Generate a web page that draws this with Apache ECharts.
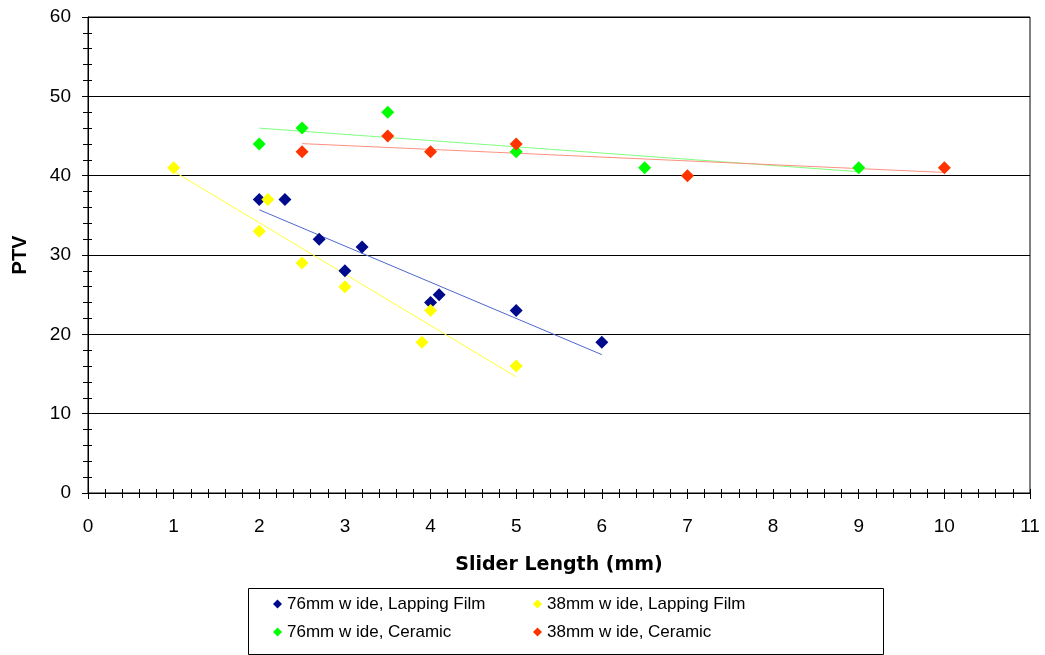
<!DOCTYPE html>
<html><head><meta charset="utf-8">
<script src="https://cdn.jsdelivr.net/npm/echarts@6/dist/echarts.min.js"></script>
<style>html,body{margin:0;padding:0;background:#fff}#c{width:1045px;height:655px}</style>
</head><body><div id="c"></div>
<script>
// ---- data ----
const names = ['76mm w ide, Lapping Film','38mm w ide, Lapping Film','76mm w ide, Ceramic','38mm w ide, Ceramic'];
const blueX = [2, 2.3, 2.7, 3.2, 3, 4, 4.1, 5, 6];
const blueY = [37, 37, 32, 31, 28, 24, 25, 23, 19];
const yellowX = [1, 2.1, 2, 2.5, 3, 4, 3.9, 5];
const yellowY = [41, 37, 33, 29, 26, 23, 19, 16];
const greenX = [2, 2.5, 3.5, 5, 6.5, 9];
const greenY = [44, 46, 48, 43, 41, 41];
const redX = [2.5, 3.5, 4, 5, 7, 10];
const redY = [43, 45, 43, 44, 40, 41];
const xRange = [0, 11];
const yRange = [0, 60];

const markerColors = ['#000a8c','#ffff00','#00ff00','#ff3300'];
const trendColors = ['#4d68d0','#ffff33','#80ff80','#ff9080'];

function pairs(xs, ys){ return xs.map((x,i)=>[x, ys[i]]); }
function trend(xs, ys){
  const n = xs.length;
  const mx = xs.reduce((a,b)=>a+b,0)/n, my = ys.reduce((a,b)=>a+b,0)/n;
  let sxy=0, sxx=0;
  for(let i=0;i<n;i++){ sxy+=(xs[i]-mx)*(ys[i]-my); sxx+=(xs[i]-mx)*(xs[i]-mx); }
  const b = sxy/sxx, a = my - b*mx;
  const x0 = Math.min(...xs), x1 = Math.max(...xs);
  return [[x0, a+b*x0],[x1, a+b*x1]];
}
const sets = [[blueX,blueY],[yellowX,yellowY],[greenX,greenY],[redX,redY]];

const series = [];
sets.forEach((s,i)=>{
  series.push({type:'line', name:'trend'+i, data: trend(s[0], s[1]), showSymbol:false, symbol:'none', silent:true,
    lineStyle:{color:trendColors[i], width:1}, z:2, xAxisIndex:0, yAxisIndex:0});
});
sets.forEach((s,i)=>{
  series.push({type:'scatter', name:names[i], data: pairs(s[0], s[1]), symbol:'diamond', symbolSize:13,
    itemStyle:{color:markerColors[i], opacity:1}, z:3, xAxisIndex:0, yAxisIndex:0});
});

const font = 'Liberation Sans, Arial, sans-serif';
const chart = echarts.init(document.getElementById('c'), null, {renderer:'canvas'});
const option = {
  backgroundColor:'#fff',
  animation:false,
  grid:{left:88, right:15, top:17, bottom:162, show:true, borderColor:'#000', borderWidth:1, backgroundColor:'transparent'},
  xAxis:[{
    type:'value', min:xRange[0], max:xRange[1], interval:1,
    name:'Slider Length (mm)', nameLocation:'middle', nameGap:63,
    nameTextStyle:{fontFamily:'DejaVu Sans', fontSize:19, fontWeight:'bold', color:'#000'},
    axisLine:{show:true, onZero:false, lineStyle:{color:'#000', width:1}},
    axisTick:{show:true, length:6, lineStyle:{color:'#000'}},
    minorTick:{show:true, splitNumber:5, length:5, lineStyle:{color:'#000'}},
    axisLabel:{fontFamily:font, fontSize:19, color:'#000', margin:24},
    splitLine:{show:false}
  },{
    type:'value', min:xRange[0], max:xRange[1], interval:1, position:'bottom',
    axisLine:{show:false}, axisLabel:{show:false}, splitLine:{show:false},
    axisTick:{show:true, inside:true, length:4, lineStyle:{color:'#000'}},
    minorTick:{show:true, splitNumber:5, length:4, lineStyle:{color:'#000'}}
  }],
  yAxis:[{
    type:'value', min:yRange[0], max:yRange[1], interval:10,
    name:'PTV', nameLocation:'middle', nameGap:58, nameRotate:90,
    nameTextStyle:{fontFamily:font, fontSize:20, fontWeight:'bold', color:'#000'},
    axisLine:{show:true, onZero:false, lineStyle:{color:'#000', width:1}},
    axisTick:{show:true, length:6, lineStyle:{color:'#000'}},
    minorTick:{show:true, splitNumber:5, length:5, lineStyle:{color:'#000'}},
    axisLabel:{fontFamily:font, fontSize:19, color:'#000', margin:17},
    splitLine:{show:true, lineStyle:{color:'#000', width:1}}
  },{
    type:'value', min:yRange[0], max:yRange[1], interval:10, position:'left',
    axisLine:{show:false}, axisLabel:{show:false}, splitLine:{show:false},
    axisTick:{show:true, inside:true, length:4, lineStyle:{color:'#000'}},
    minorTick:{show:true, splitNumber:5, length:4, lineStyle:{color:'#000'}}
  }],
  legend:[{
    data:[names[0], names[2]], orient:'vertical', left:273, top:595, padding:0,
    icon:'diamond', itemWidth:9, itemHeight:9, itemGap:10, itemTextGap:8,
    textStyle:{fontFamily:font, fontSize:17, color:'#000', lineHeight:18}
  },{
    data:[names[1], names[3]], orient:'vertical', left:533, top:595, padding:0,
    icon:'diamond', itemWidth:9, itemHeight:9, itemGap:10, itemTextGap:8,
    textStyle:{fontFamily:font, fontSize:17, color:'#000', lineHeight:18}
  }],
  graphic:[{type:'rect', shape:{x:248.5, y:588.5, width:635, height:66}, style:{fill:'none', stroke:'#000', lineWidth:1}, z:0}],
  series: series
};
chart.setOption(option);
</script></body></html>
